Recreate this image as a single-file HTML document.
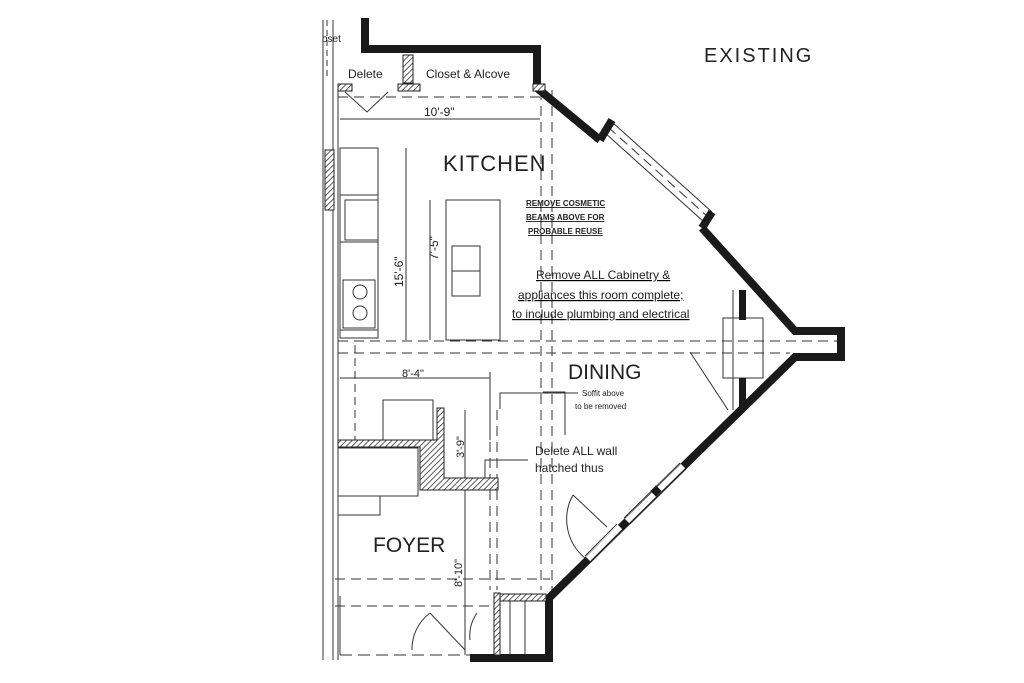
<!DOCTYPE html>
<html><head><meta charset="utf-8"><style>
html,body{margin:0;padding:0;background:#fff;}
svg{display:block}
text{font-family:"Liberation Sans",sans-serif;fill:#222}
</style></head><body>
<svg width="1024" height="683" viewBox="0 0 1024 683" xmlns="http://www.w3.org/2000/svg">
<defs>
<pattern id="h" width="4" height="4" patternUnits="userSpaceOnUse" patternTransform="rotate(45)">
<rect width="4" height="4" fill="#fff"/><line x1="0" y1="0" x2="0" y2="4" stroke="#333" stroke-width="1.6"/></pattern>
</defs>
<g fill="none" stroke="#333" stroke-width="1">
<line x1="323" y1="20" x2="323" y2="660"/>
<line x1="333" y1="20" x2="333" y2="660"/>
<line x1="338" y1="85" x2="338" y2="660"/>
<line x1="327" y1="20" x2="327" y2="80" stroke-dasharray="6,4"/>
<g stroke-dasharray="10,6">
<line x1="338" y1="341" x2="840" y2="341"/>
<line x1="338" y1="353" x2="790" y2="353"/>
<line x1="541" y1="90" x2="541" y2="590"/>
<line x1="552" y1="90" x2="552" y2="590"/>
<line x1="335" y1="579" x2="550" y2="579"/>
<line x1="335" y1="606" x2="495" y2="606"/>
<line x1="338" y1="97" x2="540" y2="97"/>
<line x1="490" y1="410" x2="490" y2="590"/>
<line x1="497" y1="410" x2="497" y2="590"/>
</g>
<line x1="340" y1="119" x2="540" y2="119"/>
<line x1="406" y1="148" x2="406" y2="340"/>
<line x1="340" y1="378" x2="490" y2="378"/>
<line x1="490" y1="372" x2="490" y2="440"/>
<line x1="465" y1="410" x2="465" y2="480"/>
<line x1="465" y1="490" x2="465" y2="655"/>
<line x1="430" y1="200" x2="430" y2="340"/>
<rect x="340" y="148" width="38" height="190"/>
<line x1="340" y1="195" x2="378" y2="195"/>
<line x1="340" y1="242" x2="378" y2="242"/>
<line x1="340" y1="330" x2="378" y2="330"/>
<rect x="345" y="200" width="33" height="40"/>
<rect x="343" y="280" width="32" height="48"/>
<circle cx="360" cy="292" r="7"/><circle cx="360" cy="313" r="7"/>
<rect x="446" y="200" width="54" height="140"/>
<rect x="452" y="246" width="28" height="50"/>
<line x1="452" y1="271" x2="480" y2="271"/>
<line x1="355" y1="345" x2="355" y2="440" stroke-dasharray="8,5"/>
<rect x="383" y="400" width="50" height="40"/>
<rect x="338" y="448" width="80" height="48"/>
<polyline points="345,92 367,112 388,92"/>
<!-- bay window frame -->
<line x1="612" y1="122" x2="712" y2="212"/>
<line x1="604" y1="132" x2="704" y2="222"/>
<line x1="608" y1="127" x2="708" y2="217" stroke-dasharray="10,6"/>
<rect x="723" y="318" width="40" height="60"/>
<line x1="733" y1="290" x2="733" y2="410"/>
<line x1="690" y1="352" x2="728" y2="410"/>
<!-- foyer doors -->
<path d="M430,613 A45,45 0 0 0 412,650"/>
<line x1="430" y1="613" x2="465" y2="650"/>
<path d="M477,613 A40,40 0 0 0 470,640"/>
<line x1="340" y1="596" x2="340" y2="655"/>
<line x1="340" y1="655" x2="470" y2="655" stroke-dasharray="12,6"/>
<line x1="510" y1="598" x2="510" y2="655"/>
<line x1="525" y1="598" x2="525" y2="655"/>
<polyline points="500,409 500,393 578,393"/>
<polyline points="485,480 485,460 528,460"/>
<polyline points="380,496 380,515 338,515"/>
<polyline points="543,392 565,392 565,435"/>
</g>
<!-- black walls -->
<g fill="none" stroke="#1a1a1a" stroke-width="8" stroke-linejoin="miter">
<path d="M365,18 V49 H537 V88 L600,140"/>
<path d="M600,140 L612,120"/>
<path d="M712,212 L702,228"/>
<path d="M702,228 L795,331 H841 V357 H795 L549,598 V658 H470"/>
</g>
<g fill="#1a1a1a">
<rect x="739" y="290" width="7" height="30"/>
<rect x="739" y="378" width="7" height="30"/>
</g>
<!-- openings on lower diagonal -->
<g stroke="#fff" stroke-width="6">
<line x1="627" y1="521" x2="683" y2="466"/>
<line x1="588" y1="559" x2="620" y2="527"/>
</g>
<g stroke="#333" stroke-width="1" fill="none">
<line x1="624" y1="518" x2="680" y2="463"/>
<line x1="630" y1="524" x2="686" y2="469"/>
<line x1="585" y1="556" x2="617" y2="524"/>
<line x1="591" y1="562" x2="623" y2="530"/>
<line x1="573" y1="495" x2="607" y2="527"/>
<path d="M573,495 A50,50 0 0 0 585,558"/>
</g>
<rect x="652" y="487" width="8" height="8" fill="#1a1a1a" transform="rotate(45 656 491)"/>
<!-- hatched walls -->
<g fill="url(#h)" stroke="#222" stroke-width="1">
<rect x="403" y="55" width="10" height="28"/>
<rect x="398" y="84" width="22" height="7"/>
<rect x="338" y="84" width="14" height="7"/>
<rect x="533" y="84" width="12" height="7"/>
<rect x="325" y="150" width="9" height="60"/>
<polygon points="338,440 437,440 437,408 444,408 444,478 498,478 498,490 420,490 420,447 338,447"/>
<rect x="495" y="594" width="51" height="7"/>
<rect x="494" y="593" width="6" height="62"/>
</g>
<text x="704" y="62" font-size="20" letter-spacing="2">EXISTING</text>
<text x="348" y="78" font-size="12">Delete</text>
<text x="426" y="78" font-size="12">Closet &amp; Alcove</text>
<text x="322" y="42" font-size="10">oset</text>
<text x="424" y="116" font-size="12">10'-9"</text>
<text x="443" y="171" font-size="22" letter-spacing="1">KITCHEN</text>
<g font-size="8" font-weight="bold" text-decoration="underline">
<text x="526" y="206">REMOVE COSMETIC</text>
<text x="526" y="220">BEAMS ABOVE FOR</text>
<text x="528" y="234">PROBABLE REUSE</text>
</g>
<g font-size="12" text-decoration="underline">
<text x="536" y="279">Remove ALL Cabinetry &amp;</text>
<text x="518" y="299">appliances this room complete;</text>
<text x="512" y="318">to include plumbing and electrical</text>
</g>
<text x="568" y="379" font-size="21">DINING</text>
<text x="582" y="396" font-size="8">Soffit above</text>
<text x="575" y="409" font-size="8">to be removed</text>
<text x="535" y="455" font-size="12">Delete ALL wall</text>
<text x="535" y="472" font-size="12">hatched thus</text>
<text x="373" y="552" font-size="21">FOYER</text>
<text x="402" y="377" font-size="11">8'-4"</text>
<text transform="translate(403,287) rotate(-90)" font-size="12">15'-6"</text>
<text transform="translate(438,260) rotate(-90)" font-size="12">7'-5"</text>
<text transform="translate(464,458) rotate(-90)" font-size="11">3'-9"</text>
<text transform="translate(462,587) rotate(-90)" font-size="11">8'-10"</text>
</svg>
</body></html>
